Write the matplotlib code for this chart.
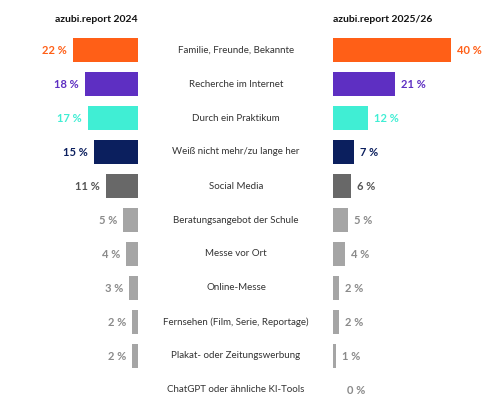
import matplotlib.pyplot as plt

categories = ["Familie, Freunde, Bekannte", "Recherche im Internet", "Durch ein Praktikum",
              "Weiß nicht mehr/zu lange her", "Social Media", "Beratungsangebot der Schule",
              "Messe vor Ort", "Online-Messe", "Fernsehen (Film, Serie, Reportage)",
              "Plakat- oder Zeitungswerbung", "ChatGPT oder ähnliche KI-Tools"]
vals_2024 = [22, 18, 17, 15, 11, 5, 4, 3, 2, 2, None]
vals_2025 = [40, 21, 12, 7, 6, 5, 4, 2, 2, 1, 0]
colors = ["#FF5F17", "#5E2FC2", "#40EED4", "#0B1F5E", "#686868",
          "#A5A5A5", "#A5A5A5", "#A5A5A5", "#A5A5A5", "#A5A5A5", "#A5A5A5"]
text_colors = ["#FF5F17", "#5E2FC2", "#40EED4", "#0B1F5E", "#555555",
               "#8A8A8A", "#8A8A8A", "#8A8A8A", "#8A8A8A", "#8A8A8A", "#8A8A8A"]

plt.rcParams['font.family'] = ['Lato', 'DejaVu Sans']
fig = plt.figure(figsize=(5, 4.12), dpi=100)
ax = fig.add_axes([0, 0, 1, 1])
ax.set_xlim(0, 500)
ax.set_ylim(412, 0)
ax.axis("off")

scale = 2.95      # pixels per percent
left_end = 138
right_start = 333
y0, step, h = 50, 34, 24

ax.text(left_end, 19, "azubi.report 2024", ha="right", va="center", fontsize=7.5, fontweight="bold", color="#111111")
ax.text(right_start, 19, "azubi.report 2025/26", ha="left", va="center", fontsize=7.5, fontweight="bold", color="#111111")

for i, cat in enumerate(categories):
    y = y0 + i * step
    ax.text(236, y, cat, ha="center", va="center", fontsize=7, color="#333333")
    v = vals_2024[i]
    if v is not None:
        w = v * scale
        ax.barh(y, w, left=left_end - w, height=h, color=colors[i])
        ax.text(left_end - w - 6, y, f"{v} %", ha="right", va="center", fontsize=8,
                fontweight="bold", color=text_colors[i])
    v = vals_2025[i]
    w = v * scale
    if v > 0:
        ax.barh(y, w, left=right_start, height=h, color=colors[i])
    ax.text(right_start + w + 6 + (8 if v == 0 else 0), y, f"{v} %", ha="left", va="center",
            fontsize=8, fontweight="bold", color=text_colors[i])

fig.savefig("out.png", dpi=100)
